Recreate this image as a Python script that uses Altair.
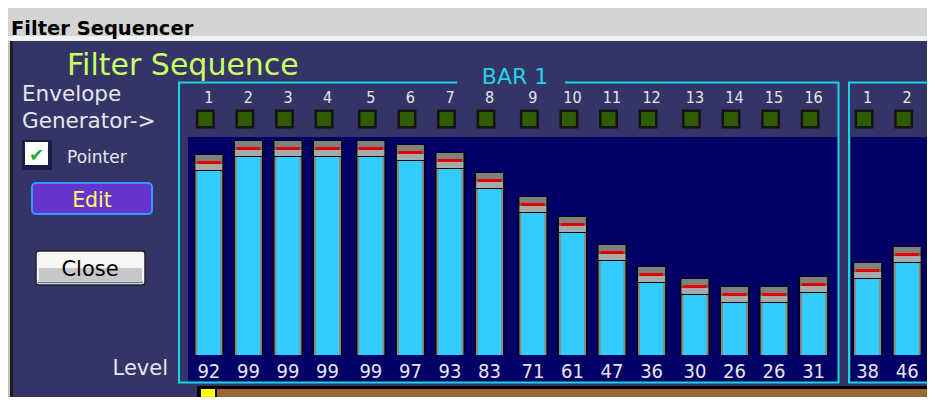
import altair as alt
import pandas as pd

# ---- data ----
bar_numbers = [1] * 16 + [2] * 2
step_numbers = list(range(1, 17)) + [1, 2]
levels = [92, 99, 99, 99, 99, 97, 93, 83, 71, 61, 47, 36, 30, 26, 26, 31, 38, 46]

# layout: slot position of every step (steps come in groups of 4, second bar after a gap)
GROUP_GAP = 0.095
BAR_OFFSET = 16.65
slots = [(s - 1) + GROUP_GAP * ((s - 1) // 4) + BAR_OFFSET * (b - 1)
         for b, s in zip(bar_numbers, step_numbers)]

df = pd.DataFrame({"bar": bar_numbers, "step": step_numbers, "level": levels, "slot": slots})
one = pd.DataFrame({"k": [0]})

W, H = 919, 389
xs = alt.Scale(domain=[-4.95, 18.025], nice=False, zero=False)
ys = alt.Scale(domain=[-21, 173.5], nice=False, zero=False)

PANEL = "#343466"
NAVY = "#000066"
CYAN_LINE = "#14d6e6"
TXT = "#e6e6ee"
FONT = "DejaVu Sans"
NUMFONT = "DejaVu Sans Condensed, DejaVu Sans"


def R(x1, y1, x2, y2, color, **kw):
    return alt.Chart(one).mark_rect(color=color, **kw).encode(
        x=alt.value(x1 - 8), x2=alt.value(x2 - 8), y=alt.value(y1 - 8), y2=alt.value(y2 - 8))


def HR(x1, x2, y, color, w=2):
    return alt.Chart(one).mark_rule(color=color, strokeWidth=w).encode(
        x=alt.value(x1 - 8), x2=alt.value(x2 - 8), y=alt.value(y - 8))


def VR(x, y1, y2, color, w=2):
    return alt.Chart(one).mark_rule(color=color, strokeWidth=w).encode(
        x=alt.value(x - 8), y=alt.value(y1 - 8), y2=alt.value(y2 - 8))


def T(text, x, y, **kw):
    return alt.Chart(one).mark_text(text=text, baseline="alphabetic", **kw).encode(
        x=alt.value(x - 8), y=alt.value(y - 8))


deco = [
    # window title bar
    R(8, 8, 935, 36, "#d4d4d4"),
    R(8, 36, 935, 41, "#f2f2f2"),
    T("Filter Sequencer", 11, 35, font=FONT, fontSize=19.5, fontWeight="bold", color="#000000", align="left"),
    # left window border
    R(8, 41, 10, 405, "#c0c0c0"),
    R(10, 41, 13, 405, "#1e1e1e"),
    # navy plot areas
    R(188, 137, 838, 382, NAVY),
    R(851, 137, 935, 382, NAVY),
    # frame of BAR 1
    VR(179, 82, 383, CYAN_LINE),
    VR(838.5, 82, 383, CYAN_LINE),
    HR(178, 457, 82.5, CYAN_LINE),
    HR(565, 839, 82.5, CYAN_LINE),
    HR(178, 839, 382.5, CYAN_LINE),
    # frame of BAR 2
    VR(849, 82, 383, CYAN_LINE),
    HR(848, 935, 82.5, CYAN_LINE),
    HR(848, 935, 382.5, CYAN_LINE),
    # bottom position strip
    R(197, 386, 935, 401, "#000000"),
    R(201, 389, 215, 398, "#ffff00"),
    R(217, 389, 935, 398, "#9b6634"),
    # left controls
    T("Filter Sequence", 67, 75, font=FONT, fontSize=30, color="#ccff66", align="left"),
    T("Envelope", 22, 101, font=FONT, fontSize=21.5, color=TXT, align="left"),
    T("Generator->", 22, 128, font=FONT, fontSize=21.5, color=TXT, align="left"),
    T("BAR 1", 515, 84, font=FONT, fontSize=22, color="#22d4e4", align="center"),
    R(22, 140, 52, 170, "#1c1c48"),
    R(25, 142, 48, 165, "#ffffff"),
    T("✔", 36.5, 161, font=FONT, fontSize=18, color="#22aa33", align="center"),
    T("Pointer", 67, 163, font=FONT, fontSize=17, color=TXT, align="left"),
    R(32, 183, 152, 214, "#6633cc", stroke="#3399ff", strokeWidth=2, cornerRadius=4),
    T("Edit", 92, 207, font=FONT, fontSize=20.5, color="#ffff66", align="center"),
    R(36, 251, 145, 285, "#f6f6f6", stroke="#222222", strokeWidth=1.5, cornerRadius=3),
    R(39, 268, 142, 281, "#c6c6c6"),
    HR(38, 143, 282.5, "#5577aa", 1.5),
    T("Close", 90, 276, font=FONT, fontSize=21, color="#000000", align="center"),
    T("Level", 168, 375, font=FONT, fontSize=21, color=TXT, align="right"),
]

X = alt.X("slot:Q", scale=xs, axis=None)

base = alt.Chart(df).transform_calculate(
    zero="0",
    top="datum.level + 8.5",
    cap0="datum.level + 0.5",
    cap1="datum.level + 3.5",
    red1="datum.level + 5.0",
    cap2="datum.level + 8.0",
)


def bar_layer(top, bottom, size, color):
    return base.mark_bar(size=size, color=color).encode(
        x=X, y=alt.Y(f"{top}:Q", scale=ys, axis=None), y2=alt.Y2(f"{bottom}:Q"))


bars = [
    bar_layer("top", "zero", 30, "#080808"),
    bar_layer("level", "zero", 27, "#8a8a8a"),
    bar_layer("level", "zero", 23, "#33ccff"),
    bar_layer("cap1", "cap0", 27, "#a9a9a9"),
    bar_layer("cap2", "red1", 27, "#808080"),
    bar_layer("red1", "cap1", 27, "#6a6a6a"),
    bar_layer("red1", "cap1", 23, "#e00000"),
]

leds = alt.Chart(df).mark_square(size=270, filled=True, color="#2f5c00", stroke="#141414",
                                 strokeWidth=2.5, opacity=1, xOffset=-3.5).encode(
    x=X, y=alt.value(119 - 8))

step_labels = alt.Chart(df).mark_text(font=NUMFONT, fontSize=16, color=TXT, baseline="alphabetic").encode(
    x=X, y=alt.value(103 - 8), text="step:N")

value_labels = alt.Chart(df).mark_text(font=NUMFONT, fontSize=20, color=TXT, baseline="alphabetic").encode(
    x=X, y=alt.value(378 - 8), text="level:Q")

chart = alt.layer(*deco, *bars, leds, step_labels, value_labels).properties(
    width=W, height=H, background=PANEL, padding=0,
    autosize=alt.AutoSizeParams(type="none"),
).configure_view(stroke=None)

chart.save("out.html", embed_options={"renderer": "svg", "actions": False})
